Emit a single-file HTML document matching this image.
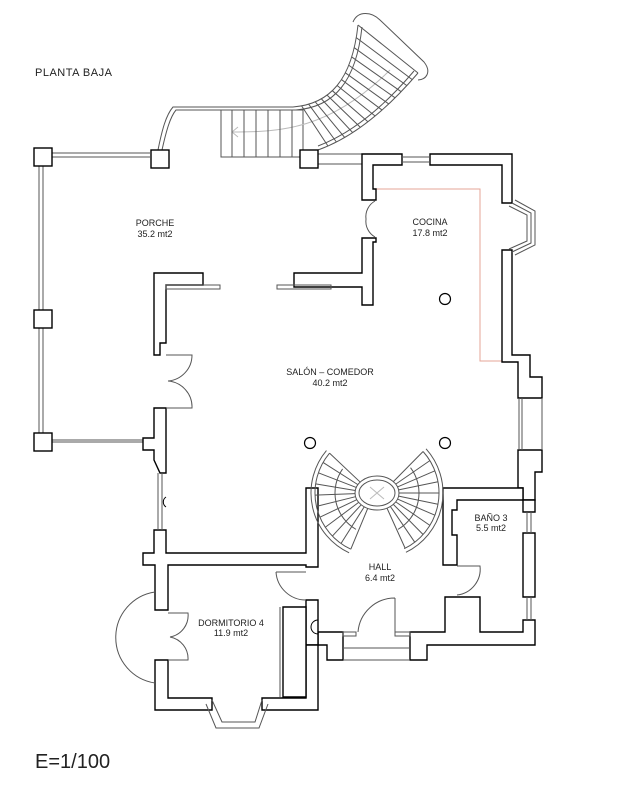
<!DOCTYPE html>
<html><head><meta charset="utf-8"><style>
html,body{margin:0;padding:0;background:#fff}
svg{display:block}
text{font-family:"Liberation Sans",sans-serif;fill:#222}
</style></head><body>
<svg id="s" width="636" height="800" viewBox="0 0 636 800" xmlns="http://www.w3.org/2000/svg">
<rect width="636" height="800" fill="#fff"/>
<text x="35" y="76" font-size="11" letter-spacing="0.5">PLANTA BAJA</text>
<text x="35" y="768" font-size="20" fill="#555">E=1/100</text>

<g fill="none" stroke="#555" stroke-width="1">
<line x1="52" y1="153" x2="150" y2="153"/><line x1="52" y1="157" x2="150" y2="157"/>
<line x1="318" y1="154" x2="362" y2="154"/><line x1="318" y1="164" x2="362" y2="164"/>
<line x1="39" y1="165" x2="39" y2="310"/><line x1="43" y1="165" x2="43" y2="310"/>
<line x1="39" y1="328" x2="39" y2="433"/><line x1="43" y1="328" x2="43" y2="433"/>
<line x1="52" y1="440" x2="143" y2="440"/><line x1="52" y1="442" x2="143" y2="442"/>
<path d="M158,150 C162,130 166,115 173,107 H293"/>
<path d="M162,150 C166,132 170,117 176,110 H293"/>
<path d="M293,107 C330,104 352,80 358,25"/>
<path d="M296,110 C334,107 356,82 362,27"/>
<path d="M318,150 C360,135 395,100 418,73"/>
<path d="M318,146 C358,131 392,97 414,71"/>
<path d="M358,25 L418,73"/>
<path d="M353,22 C358,10 372,12 380,20 L424,62 C432,72 426,80 418,80"/>
<rect x="221" y="110" width="82" height="47"/>
<path d="M232,132 C280,132 330,130 390,70" stroke="#bbb"/>
<path d="M232,132 l6,-5 M232,132 l6,5" stroke="#bbb"/>
</g>
<g id="treads" stroke="#555" stroke-width="1"></g>
<g stroke="#555" stroke-width="1"><line x1="232" y1="110" x2="232" y2="157"/><line x1="244" y1="110" x2="244" y2="157"/><line x1="256" y1="110" x2="256" y2="157"/><line x1="268" y1="110" x2="268" y2="157"/><line x1="280" y1="110" x2="280" y2="157"/><line x1="292" y1="110" x2="292" y2="157"/></g>

<g fill="#fff" stroke="#000" stroke-width="1.4">
<rect x="34" y="148" width="18" height="18"/>
<rect x="151" y="150" width="18" height="18"/>
<rect x="300" y="150" width="18" height="18"/>
<rect x="34" y="310" width="18" height="18"/>
<rect x="34" y="433" width="18" height="18"/>
</g>

<path d="M373,189 H480 V361 H502" fill="none" stroke="#e6a597" stroke-width="1"/>

<g fill="#fff" stroke="#000" stroke-width="1.4" stroke-linejoin="miter">
<path d="M362,154 H402 V165 H373 V189 H376 V200 H362 Z"/>
<path d="M430,154 H512 V203 H502 V165 H430 Z"/>
<path d="M362,238 H376 V242 H373 V305 H362 V287 H294 V273 H362 Z"/>
<path d="M502,250 H512 V355 H530 V377 H542 V398 H518 V362 H502 Z"/>
<path d="M518,450 H542 V472 H535 V500 H523 V488 H518 Z"/>
<path d="M443,488 H523 V500 H457 V510 H452 V535 H457 V565 H443 Z"/>
<path d="M523,500 H535 V512 H523 Z"/>
<path d="M523,533 H535 V597 H523 Z"/>
<path d="M523,620 H535 V645 H427 V660 H410 V632 H445 V597 H480 V632 H523 Z"/>
<path d="M318,632 H343 V660 H327 V645 H318 Z"/>
<path d="M154,273 H203 V285 H166 V343 H160 V355 H154 Z"/>
<path d="M154,408 H166 V473 H160 L154,460 V450 H143 V438 H154 Z"/>
<path d="M154,530 L160,530 H166 V553 H306 V488 H318 V567 H306 V565 H168 V610 H155 V565 H143 V553 H154 Z"/>
<path d="M306,600 H318 V645 H306 Z"/>
<path d="M306,645 H318 V710 H262 V698 H306 Z"/>
<path d="M155,660 H168 V698 H212 V710 H155 Z"/>
<path d="M283,607 H306 V697 H283 Z"/>
</g>
<g fill="none" stroke="#555" stroke-width="1">
<line x1="402" y1="157" x2="430" y2="157"/><line x1="402" y1="162" x2="430" y2="162"/>
<polyline points="512,203 531,213 531,243 512,252"/>
<polyline points="509,206 527,215 527,241 509,249"/>
<polyline points="515,200 535,211 535,245 515,255"/>
<line x1="519" y1="398" x2="519" y2="450"/><line x1="522" y1="398" x2="522" y2="450"/>
<line x1="542" y1="398" x2="542" y2="450"/>
<line x1="527" y1="512" x2="527" y2="533"/><line x1="531" y1="512" x2="531" y2="533"/>
<line x1="527" y1="597" x2="527" y2="620"/><line x1="531" y1="597" x2="531" y2="620"/>
<rect x="166" y="285" width="54" height="4"/>
<rect x="277" y="285" width="54" height="4"/>
<path d="M166,355 H192 A26,26 0 0 1 168,381 M166,408 H192 A26,26 0 0 0 168,381"/>
<path d="M375,201 A18,18 0 0 0 366,219 A18,18 0 0 0 375,237"/>
<line x1="158" y1="473" x2="158" y2="530"/><line x1="162" y1="473" x2="162" y2="530"/>
<path d="M166,497 A6,6 0 0 0 166,507" stroke="#000"/>
<path d="M155,592 A46,46 0 0 0 155,683"/>
<path d="M168,613 H188 A22,22 0 0 1 170,637 M168,660 H188 A22,22 0 0 0 170,637"/>
<polyline points="212,700 222,722 255,722 262,700"/>
<polyline points="206,704 216,728 259,728 268,704"/>
<line x1="280" y1="607" x2="280" y2="697"/>
<path d="M276,572 A30,30 0 0 0 306,600 M276,572 H306"/>
<path d="M318,620 A7,7 0 0 0 318,634" stroke="#000"/>
<path d="M395,598 V632 M395,598 A37,37 0 0 0 358,632"/>
<rect x="343" y="632" width="13" height="4"/><rect x="395" y="632" width="15" height="4"/>
<line x1="343" y1="648" x2="410" y2="648"/><line x1="343" y1="660" x2="410" y2="660"/>
<path d="M457,566 H480 A26,26 0 0 1 457,595"/>
</g>
<g fill="#fff" stroke="#000" stroke-width="1.2">
<circle cx="445" cy="299" r="5.5"/><circle cx="310" cy="443" r="5.5"/><circle cx="445" cy="443" r="5.5"/>
</g>
<g id="sp" fill="none" stroke="#555" stroke-width="1">
<ellipse cx="377" cy="493" rx="22" ry="17"/>
<ellipse cx="377" cy="493" rx="18" ry="13"/>
<path d="M370,487 L384,499 M384,487 L370,499" stroke="#bbb"/>
</g>

<g font-size="9" text-anchor="middle">
<text x="155" y="226">PORCHE</text><text x="155" y="237">35.2 mt2</text>
<text x="430" y="225">COCINA</text><text x="430" y="236">17.8 mt2</text>
<text x="330" y="375">SALÓN – COMEDOR</text><text x="330" y="386">40.2 mt2</text>
<text x="380" y="570">HALL</text><text x="380" y="581">6.4 mt2</text>
<text x="491" y="521">BAÑO 3</text><text x="491" y="531">5.5 mt2</text>
<text x="231" y="626">DORMITORIO 4</text><text x="231" y="636">11.9 mt2</text>
</g>
<script>
(function(){
var ns="http://www.w3.org/2000/svg";
function bz(p,t){var u=1-t;return[u*u*u*p[0][0]+3*u*u*t*p[1][0]+3*u*t*t*p[2][0]+t*t*t*p[3][0],u*u*u*p[0][1]+3*u*u*t*p[1][1]+3*u*t*t*p[2][1]+t*t*t*p[3][1]];}
var O=[[293,107],[330,104],[352,80],[358,25]],I=[[318,150],[360,135],[395,100],[418,73]];
var g=document.getElementById('treads');
for(var t=0.08;t<0.99;t+=0.07){var a=bz(O,t),b=bz(I,t);var l=document.createElementNS(ns,'line');l.setAttribute('x1',a[0]);l.setAttribute('y1',a[1]);l.setAttribute('x2',b[0]);l.setAttribute('y2',b[1]);g.appendChild(l);}
var sp=document.getElementById('sp');var cx=377,cy=493;
function arc(r,a1,a2,sw){var x1=cx+r*Math.cos(a1),y1=cy+r*Math.sin(a1),x2=cx+r*Math.cos(a2),y2=cy+r*Math.sin(a2);var p=document.createElementNS(ns,'path');p.setAttribute('d','M'+x1+','+y1+' A'+r+','+r+' 0 0 '+sw+' '+x2+','+y2);sp.appendChild(p);}
var d=Math.PI/180;
arc(62,220*d,115*d,0);arc(66,220*d,115*d,0);arc(42,215*d,120*d,0);
arc(62,-42*d,64*d,1);arc(66,-42*d,64*d,1);arc(42,-37*d,60*d,1);
function rad(a){var l=document.createElementNS(ns,'line');l.setAttribute('x1',cx+22*Math.cos(a));l.setAttribute('y1',cy+17*Math.sin(a));l.setAttribute('x2',cx+62*Math.cos(a));l.setAttribute('y2',cy+62*Math.sin(a));sp.appendChild(l);}
for(var a=220;a>=115;a-=10.5)rad(a*d);
for(var a=-42;a<=64;a+=10.5)rad(a*d);
})();
</script>
</svg>
</body></html>
